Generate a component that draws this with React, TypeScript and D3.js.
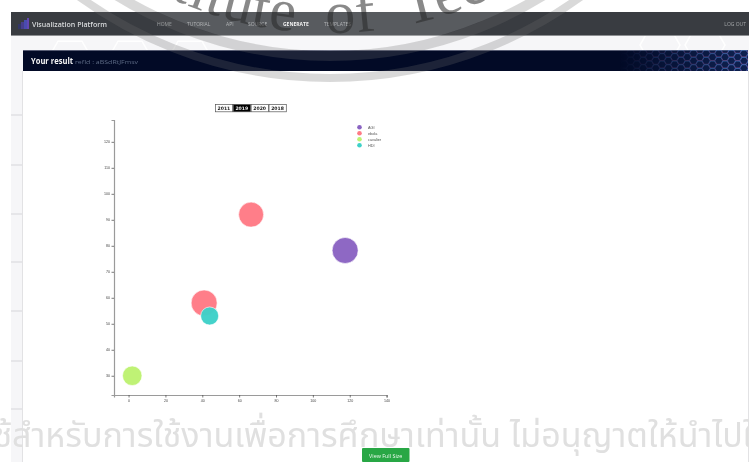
import React, { useEffect, useRef } from "react";
import * as d3 from "d3";

const legendNames = ["AGI", "ebola", "cavalier", "HDI"];
const legendColors = ["#8a63c2", "#ff7a85", "#bdf271", "#3ed1c8"];
const pointX = [117.5, 66.5, 41, 2, 44];
const pointY = [78.2, 92, 58, 30, 53];
const pointSize = [169, 156, 169, 95, 81];
const pointCategory = [0, 1, 1, 2, 3];
const xTicks = [0, 20, 40, 60, 80, 100, 120, 140];
const yTicks = [30, 40, 50, 60, 70, 80, 90, 100, 110, 120];
const years = ["2011", "2019", "2020", "2018"];
const activeYear = "2019";
const navItems: [string, number, boolean][] = [
  ["HOME", 157, false],
  ["TUTORIAL", 187, false],
  ["API", 226, false],
  ["SOURCE", 248, false],
  ["GENERATE", 283, true],
  ["TEMPLATES", 324, false],
];
const stripLines = [115, 165, 214, 262, 311, 361, 409];

const W = 749;
const H = 462;
const x = d3.scaleLinear().domain([-7.9, 140]).range([114, 386.6]);
const y = d3.scaleLinear().domain([22.6, 128.4]).range([395, 120]);
const r = d3.scaleSqrt().domain([0, 169]).range([0, 13]);
const color = d3.scaleOrdinal<number, string>().domain([0, 1, 2, 3]).range(legendColors);

const cx = 330;
const cy = -349;
const arcPath = (rad: number) => `M ${cx - rad} ${cy} A ${rad} ${rad} 0 0 0 ${cx + rad} ${cy}`;
const hexPoints = (px: number, py: number, s: number) =>
  d3.range(6).map((i) => {
    const a = (Math.PI / 3) * i;
    return `${px + s * Math.cos(a)},${py + s * Math.sin(a)}`;
  }).join(" ");

export default function App() {
  const xRef = useRef<SVGGElement>(null);
  const yRef = useRef<SVGGElement>(null);
  useEffect(() => {
    const style = (g: d3.Selection<SVGGElement, unknown, null, undefined>) => {
      g.selectAll("text").attr("font-size", 3.6).attr("fill", "#444").attr("font-family", "Liberation Sans, sans-serif");
      g.selectAll(".tick line").attr("stroke", "#444").attr("stroke-width", 0.7);
      g.select(".domain").attr("stroke", "#9a9a9a").attr("stroke-width", 1.2);
    };
    const gx = d3.select(xRef.current!);
    gx.call(d3.axisBottom(x).tickValues(xTicks).tickSize(2.5).tickPadding(2) as any);
    style(gx as any);
    const gy = d3.select(yRef.current!);
    gy.call(d3.axisLeft(y).tickValues(yTicks).tickSize(2.5).tickPadding(1.5) as any);
    style(gy as any);
  }, []);

  const hexes: [number, number][] = [];
  for (let i = 0; i < 34; i++) {
    for (let j = 0; j < 5; j++) {
      hexes.push([618 + i * 6.3, 46 + j * 7.4 + (i % 2) * 3.7]);
    }
  }

  return (
    <svg
      width={W}
      height={H}
      viewBox={`0 0 ${W} ${H}`}
      style={{ position: "absolute", left: 0, top: 0, display: "block", background: "#fff", filter: "blur(0.35px)" }}
    >
      <defs>
        <linearGradient id="hexFade" x1="0" x2="1" y1="0" y2="0">
          <stop offset="0" stopColor="#000" />
          <stop offset="0.35" stopColor="#666" />
          <stop offset="1" stopColor="#fff" />
        </linearGradient>
        <linearGradient id="hexStroke" x1="0" x2="0" y1="0" y2="1">
          <stop offset="0" stopColor="#3f8be0" />
          <stop offset="0.6" stopColor="#5a62b0" />
          <stop offset="1" stopColor="#a0407a" />
        </linearGradient>
        <mask id="hexMask" maskUnits="userSpaceOnUse" x="620" y="50" width="128" height="21">
          <rect x="620" y="50" width="128" height="21" fill="url(#hexFade)" />
        </mask>
        <clipPath id="headClip"><rect x="23" y="50" width="725" height="21" /></clipPath>
        <path id="sealText" d={arcPath(382)} />
      </defs>

      {/* page */}
      <rect x={11} y={35} width={738} height={427} fill="#f6f6f8" />
      <g fill="none" stroke="#ffffff" strokeWidth={1.5}>
        <polygon points={hexPoints(70, 62, 24)} />
        <polygon points={hexPoints(130, 62, 24)} />
        <polygon points={hexPoints(190, 62, 24)} />
        <polygon points={hexPoints(660, 45, 20)} />
        <polygon points={hexPoints(705, 45, 20)} />
      </g>
      {stripLines.map((v) => (
        <line key={v} x1={11} x2={23} y1={v} y2={v} stroke="#cfcfd2" strokeWidth={0.8} />
      ))}
      <rect x={23} y={71} width={725} height={391} fill="#fff" />
      <line x1={748.5} x2={748.5} y1={71} y2={462} stroke="#e2e2e4" />
      <line x1={22.5} x2={22.5} y1={71} y2={462} stroke="#e2e2e4" />

      {/* nav */}
      <rect x={11} y={12} width={738} height={23} fill="#393c41" />
      <line x1={11} x2={749} y1={35.5} y2={35.5} stroke="#8d8f92" />
      <g opacity={0.85}>
        <rect x={18} y={24} width={3} height={5} fill="#33366e" />
        <rect x={21} y={22} width={3} height={7} fill="#4a3f9a" />
        <rect x={24} y={20} width={3} height={9} fill="#4c4fc0" />
        <rect x={27} y={18} width={2} height={11} fill="#6a4ac8" />
      </g>
      <text x={32} y={26.5} fontSize={7.8} textLength={75} lengthAdjust="spacingAndGlyphs" fill="#d8dadc" fontFamily="Open Sans, sans-serif" fontWeight={600}>Visualization Platform</text>
      {navItems.map(([t, px, on]) => (
        <text key={t} x={px} y={26} fontSize={5} fill={on ? "#f2f2f2" : "#a4a7a9"} fontWeight={on ? 700 : 400} fontFamily="Open Sans, sans-serif">{t}</text>
      ))}
      <text x={746} y={26} textAnchor="end" fontSize={5} fill="#a4a7a9" fontFamily="Open Sans, sans-serif">LOG OUT</text>

      {/* panel header */}
      <rect x={23} y={50} width={725} height={21} fill="#020a26" />
      <line x1={23} x2={748} y1={50.5} y2={50.5} stroke="#70748a" strokeWidth={0.8} />
      <g mask="url(#hexMask)" clipPath="url(#headClip)">
        {hexes.map(([a, b], i) => (
          <polygon key={i} points={hexPoints(a, b, 4)} fill="#1d3f86" fillOpacity={0.45} stroke="url(#hexStroke)" strokeWidth={0.7} />
        ))}
      </g>
      <text x={31} y={64} fontSize={9.5} textLength={42} lengthAdjust="spacingAndGlyphs" fontWeight={700} fill="#f4f4f4" fontFamily="Open Sans, sans-serif">Your result</text>
      <text x={75} y={64} fontSize={5.6} textLength={63} lengthAdjust="spacingAndGlyphs" fill="#5d6a85" fontFamily="Open Sans, sans-serif">refId : aBSdRtJFmsv</text>

      {/* year buttons */}
      {years.map((t, i) => {
        const bx = d3.scaleLinear().domain([0, 4]).range([215, 286.5]);
        const on = t === activeYear;
        return (
          <g key={t}>
            <rect x={bx(i) + 0.4} y={104.4} width={bx(i + 1) - bx(i) - 0.6} height={7.4} fill={on ? "#000" : "#fff"} stroke="#555" strokeWidth={0.7} />
            <text x={(bx(i) + bx(i + 1)) / 2} y={110.1} textAnchor="middle" fontSize={4.6} fontWeight={700} fill={on ? "#eee" : "#222"} fontFamily="DejaVu Sans, sans-serif">{t}</text>
          </g>
        );
      })}

      {/* chart */}
      <g ref={xRef} transform="translate(0,395)" />
      <g ref={yRef} transform="translate(114,0)" />
      {pointX.map((v, i) => (
        <circle
          key={i}
          cx={x(v)}
          cy={y(pointY[i])}
          r={r(pointSize[i])}
          fill={color(pointCategory[i])}
          stroke="#fff"
          strokeWidth={0.6}
          fillOpacity={0.97}
        />
      ))}
      {legendNames.map((n, i) => (
        <g key={n}>
          <circle cx={359.5} cy={127.3 + i * 6} r={2.3} fill={legendColors[i]} />
          <text x={368} y={128.6 + i * 6} fontSize={3.8} fill="#555" fontFamily="Liberation Sans, sans-serif">{n}</text>
        </g>
      ))}

      {/* watermark seal */}
      <circle cx={cx} cy={cy} r={400} fill="rgba(255,255,255,0.16)" />
      <path d={arcPath(427)} fill="none" stroke="rgba(108,108,108,0.26)" strokeWidth={8} />
      <path d={arcPath(405)} fill="none" stroke="rgba(108,108,108,0.26)" strokeWidth={10} />
      <text fontSize={60} fontFamily="Liberation Serif, serif" fill="rgba(40,40,40,0.55)" letterSpacing={1} wordSpacing={15}>
        <textPath href="#sealText" startOffset={359}>Institute of Technology</textPath>
      </text>

      {/* watermark notice */}
      <text x={-16} y={447} fontSize={34} fill="#e0e0e0" fontFamily="Noto Sans, Noto Sans Thai, sans-serif">ใช้สำหรับการใช้งานเพื่อการศึกษาเท่านั้น ไม่อนุญาตให้นำไปใช้</text>

      {/* button */}
      <rect x={362} y={448} width={47.5} height={14} rx={1} fill="#28a745" />
      <text x={385.7} y={457.5} textAnchor="middle" fontSize={5.4} fill="#eefaf0" fontFamily="Open Sans, sans-serif">View Full Size</text>
    </svg>
  );
}
